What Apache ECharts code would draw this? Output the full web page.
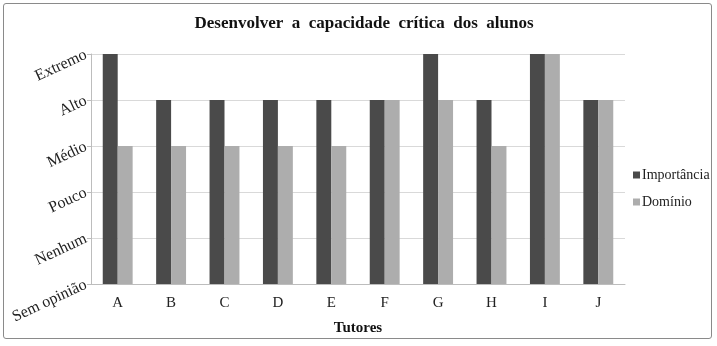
<!DOCTYPE html>
<html>
<head>
<meta charset="utf-8">
<script src="https://cdn.jsdelivr.net/npm/echarts@6/dist/echarts.min.js"></script>
<style>
  html, body { margin: 0; padding: 0; background: #fff; }
  #frame {
    position: absolute; left: 3px; top: 3px; width: 709px; height: 336px;
    border: 1px solid #8a8a8a; border-radius: 3px; box-sizing: border-box;
  }
  #chart { position: absolute; left: 0; top: 0; width: 717px; height: 346px; }
</style>
</head>
<body>
<div id="frame"></div>
<div id="chart"></div>
<script>
const tutores = ['A', 'B', 'C', 'D', 'E', 'F', 'G', 'H', 'I', 'J']
const niveis = ['Sem opinião', 'Nenhum', 'Pouco', 'Médio', 'Alto', 'Extremo']
const importancia = [5, 4, 4, 4, 4, 4, 5, 4, 5, 4]
const dominio = [3, 3, 3, 3, 3, 4, 4, 3, 5, 4]

const serif = '"Liberation Serif", "DejaVu Serif", serif'

const chart = echarts.init(document.getElementById('chart'))
chart.setOption({
  animation: false,
  textStyle: { fontFamily: serif },
  title: {
    text: 'Desenvolver  a  capacidade  crítica  dos  alunos',
    left: 359,
    textAlign: 'center',
    top: 10,
    textStyle: { fontFamily: serif, fontSize: 17, fontWeight: 'bold', color: '#111' }
  },
  legend: {
    orient: 'vertical',
    left: 628,
    top: 163,
    itemWidth: 7,
    itemHeight: 7,
    itemGap: 13,
    icon: 'rect',
    textStyle: { fontFamily: serif, fontSize: 14, color: '#222', padding: [0, 0, 0, -3] },
    data: ['Importância', 'Domínio']
  },
  grid: { left: 91, right: 92, top: 54, bottom: 62 },
  xAxis: {
    type: 'category',
    data: tutores,
    name: 'Tutores',
    nameLocation: 'middle',
    nameGap: 37,
    nameTextStyle: { fontFamily: serif, fontSize: 15, fontWeight: 'bold', color: '#111' },
    axisLine: { lineStyle: { color: '#bdbdbd' } },
    axisTick: { lineStyle: { color: '#bdbdbd' }, length: 4 },
    axisLabel: { fontFamily: serif, fontSize: 15, color: '#222', margin: 12 }
  },
  yAxis: {
    type: 'value',
    min: 0,
    max: 5,
    interval: 1,
    axisLine: { show: true, lineStyle: { color: '#bdbdbd' } },
    axisTick: { show: true, length: 4, lineStyle: { color: '#bdbdbd' } },
    splitLine: { lineStyle: { color: '#d9d9d9' } },
    axisLabel: {
      fontFamily: serif, fontSize: 16, color: '#222', rotate: 25, margin: 5,
      formatter: v => niveis[v]
    }
  },
  series: [
    {
      name: 'Importância',
      type: 'bar',
      data: importancia,
      barGap: '0%',
      barCategoryGap: '44%',
      itemStyle: { color: '#4a4a4a' }
    },
    {
      name: 'Domínio',
      type: 'bar',
      data: dominio,
      itemStyle: { color: '#adadad' }
    }
  ]
})
</script>
</body>
</html>
